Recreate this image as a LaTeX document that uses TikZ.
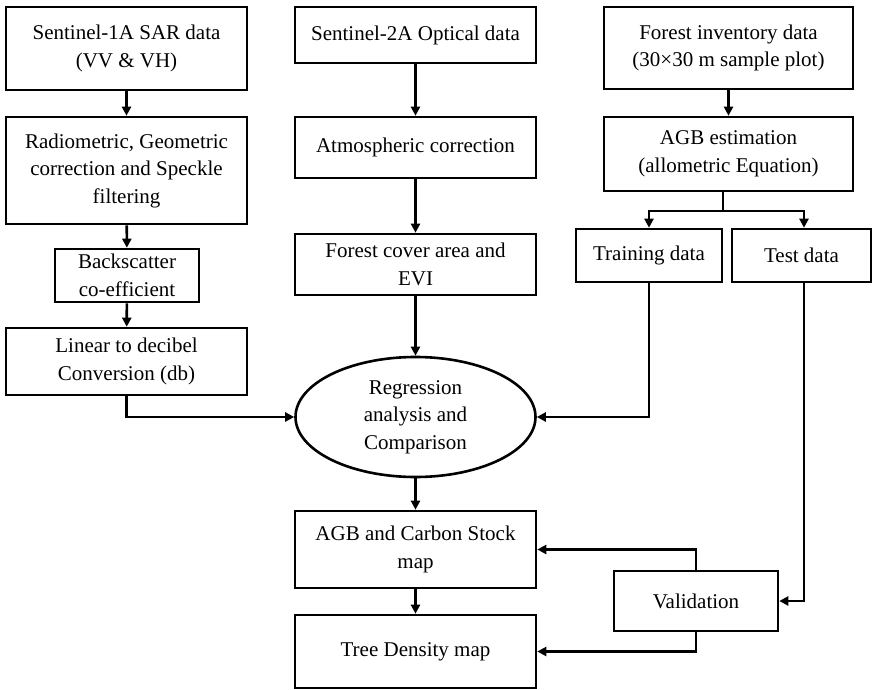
\documentclass[tikz,border=0pt]{standalone}
\usepackage{fontspec}
\setmainfont{Liberation Serif}
\usetikzlibrary{arrows.meta,shapes.geometric}
\begin{document}
\begin{tikzpicture}[x=1pt,y=-1pt,
  line width=2.6pt,
  every node/.style={font=\fontsize{21}{27.5}\selectfont, align=center, inner sep=0pt},
  proc/.style={draw, rectangle},
  oval/.style={draw, ellipse},
  flow/.style={-{Triangle[length=9pt,width=9pt]}}]
\useasboundingbox (0,0) rectangle (873,690);

% left column: SAR processing chain
\node[proc, minimum width=241pt, minimum height=83pt] (s1) at (126.5,48.5) {Sentinel-1A SAR data\\(VV \& VH)};
\node[proc, minimum width=241pt, minimum height=107pt] (rad) at (126.5,170.5) {Radiometric, Geometric\\correction and Speckle\\filtering};
\node[proc, minimum width=144pt, minimum height=53pt] (bs) at (127,275.5) {Backscatter\\co-efficient};
\node[proc, minimum width=241pt, minimum height=67pt] (lin) at (126.5,361.5) {Linear to decibel\\Conversion (db)};

% middle column: optical processing and outputs
\node[proc, minimum width=241pt, minimum height=56pt] (s2) at (415.5,35) {Sentinel-2A Optical data};
\node[proc, minimum width=241pt, minimum height=61pt] (atm) at (415.5,147.5) {Atmospheric correction};
\node[proc, minimum width=241pt, minimum height=61pt] (evi) at (415.5,264.5) {Forest cover area and\\EVI};
\node[oval, minimum width=240pt, minimum height=120pt] (reg) at (415.5,417) {Regression\\analysis and\\Comparison};
\node[proc, minimum width=241pt, minimum height=77pt] (agbmap) at (415.5,549.5) {AGB and Carbon Stock\\map};
\node[proc, minimum width=241pt, minimum height=73pt] (tree) at (415.5,651.5) {Tree Density map};

% right column: field inventory
\node[proc, minimum width=249pt, minimum height=82pt] (inv) at (728.5,48) {Forest inventory data\\(30×30 m sample plot)};
\node[proc, minimum width=249pt, minimum height=74pt] (agb) at (728.5,154) {AGB estimation\\(allometric Equation)};
\node[proc, minimum width=146pt, minimum height=53pt] (train) at (649,255.5) {Training data};
\node[proc, minimum width=139pt, minimum height=53pt] (test) at (801.5,255.5) {Test data};
\node[proc, minimum width=164pt, minimum height=60pt] (val) at (696,601) {Validation};

% straight vertical links
\draw[flow] (s1) -- (rad);
\draw[flow] (rad) -- (bs);
\draw[flow] (bs) -- (lin);
\draw[flow] (s2) -- (atm);
\draw[flow] (atm) -- (evi);
\draw[flow] (evi) -- (reg);
\draw[flow] (reg) -- (agbmap);
\draw[flow] (agbmap) -- (tree);
\draw[flow] (inv) -- (agb);

% split of the field data
\coordinate (split) at (723,211);
\draw (agb.south -| split) -- (split);
\draw[flow] (split) -| (train.north);
\draw[flow] (split) -| ([xshift=2.5pt]test.north);

% inputs to the regression
\draw[flow] (lin.south) |- (reg.west);
\draw[flow] (train.south) |- (reg.east);

% validation loop
\draw[flow] ([xshift=2.5pt]test.south) |- (val.east);
\draw[flow] (val.north) |- (agbmap.east);
\draw[flow] (val.south) |- (tree.east);
\end{tikzpicture}
\end{document}
